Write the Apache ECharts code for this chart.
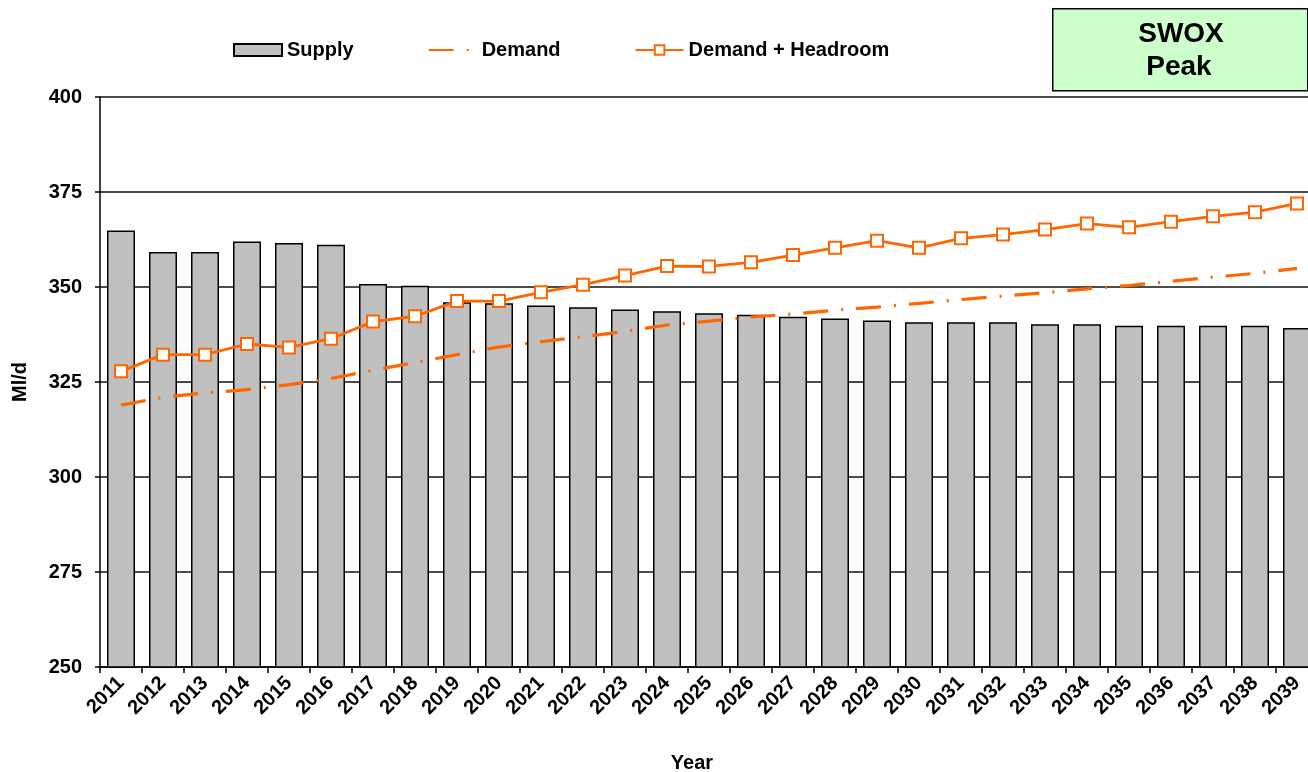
<!DOCTYPE html>
<html>
<head>
<meta charset="utf-8">
<script src="https://cdn.jsdelivr.net/npm/echarts@6/dist/echarts.min.js"></script>
<style>
html,body{margin:0;padding:0;background:#fff;}
#chart{width:1308px;height:772px;}
</style>
</head>
<body>
<div id="chart"></div>
<script>
const years = ['2011','2012','2013','2014','2015','2016','2017','2018','2019','2020','2021','2022','2023','2024','2025','2026','2027','2028','2029','2030','2031','2032','2033','2034','2035','2036','2037','2038','2039'];
const supply = [364.9, 359.2, 359.2, 362.0, 361.6, 361.1, 350.8, 350.3, 346.0, 345.7, 345.1, 344.7, 344.1, 343.6, 343.1, 342.7, 342.2, 341.7, 341.2, 340.7, 340.7, 340.7, 340.2, 340.2, 339.8, 339.8, 339.8, 339.8, 339.2];
const demand = [318.9, 321.0, 322.1, 323.0, 324.3, 325.9, 328.1, 330.1, 332.2, 334.2, 335.6, 336.9, 338.3, 340.0, 341.0, 342.1, 342.9, 343.9, 344.7, 345.7, 346.7, 347.6, 348.5, 349.5, 350.4, 351.5, 352.6, 353.6, 354.9];
const headroom = [327.8, 332.2, 332.2, 335.0, 334.1, 336.4, 340.9, 342.3, 346.3, 346.3, 348.6, 350.6, 353.0, 355.5, 355.4, 356.5, 358.4, 360.3, 362.2, 360.3, 362.8, 363.8, 365.1, 366.7, 365.7, 367.2, 368.6, 369.7, 372.0];
const seriesNames = ['Supply', 'Demand', 'Demand + Headroom'];
const boxTitle = ['SWOX', 'Peak'];
const yName = 'Ml/d';
const xName = 'Year';

const FONT = "'Liberation Sans', Arial, sans-serif";
const ORANGE = '#FF6600';

const chart = echarts.init(document.getElementById('chart'), null, {renderer: 'canvas'});
chart.setOption({
  animation: false,
  backgroundColor: '#fff',
  textStyle: {fontFamily: FONT},
  legend: {
    left: 233, top: 40, padding: 0,
    itemWidth: 48, itemHeight: 12, itemGap: 74,
    textStyle: {fontFamily: FONT, fontSize: 20, fontWeight: 'bold', color: '#000'},
    data: [
      {name: seriesNames[0], icon: 'rect'},
      {name: seriesNames[1], itemStyle: {color: 'rgba(0,0,0,0)', borderColor: 'rgba(0,0,0,0)', borderWidth: 0}},
      {name: seriesNames[2]}
    ]
  },
  graphic: [
    {type: 'rect', left: 1052, top: 8, shape: {width: 255, height: 82},
     style: {fill: '#CCFFCC', stroke: '#000', lineWidth: 1.5}},
    {type: 'text', x: 1181, y: 34, style: {text: boxTitle[0], font: "bold 28px 'Liberation Sans', Arial, sans-serif", fill: '#000', align: 'center', verticalAlign: 'middle'}},
    {type: 'text', x: 1179, y: 67, style: {text: boxTitle[1], font: "bold 28px 'Liberation Sans', Arial, sans-serif", fill: '#000', align: 'center', verticalAlign: 'middle'}}
  ],
  grid: {left: 100, top: 97, width: 1218, height: 570, containLabel: false, outerBoundsMode: 'none'},
  xAxis: {
    type: 'category', data: years, boundaryGap: true,
    name: xName, nameLocation: 'middle', nameGap: 86,
    nameTextStyle: {fontFamily: FONT, fontSize: 20, fontWeight: 'bold', color: '#000', padding: [0, 34, 0, 0]},
    axisLine: {lineStyle: {color: '#000', width: 1.5}},
    axisTick: {show: true, length: 6, alignWithLabel: false, lineStyle: {color: '#000', width: 1.5}},
    axisLabel: {rotate: 45, margin: 13, interval: 0, fontFamily: FONT, fontSize: 20, fontWeight: 'bold', color: '#000'},
    splitLine: {show: false}
  },
  yAxis: {
    type: 'value', min: 250, max: 400, interval: 25,
    name: yName, nameLocation: 'middle', nameGap: 70, nameRotate: 90,
    nameTextStyle: {fontFamily: FONT, fontSize: 20, fontWeight: 'bold', color: '#000'},
    axisLine: {show: true, lineStyle: {color: '#000', width: 1.5}},
    axisTick: {show: true, length: 5, lineStyle: {color: '#000', width: 1.5}},
    axisLabel: {margin: 18, fontFamily: FONT, fontSize: 20, fontWeight: 'bold', color: '#000'},
    splitLine: {show: true, lineStyle: {color: '#111', width: 1.5}}
  },
  series: [
    {
      name: seriesNames[0], type: 'bar', data: supply, barWidth: 28,
      itemStyle: {color: '#C0C0C0', borderColor: '#000', borderWidth: 1.5},
      z: 2
    },
    {
      name: seriesNames[1], type: 'line', data: demand, symbol: 'none', showSymbol: false,
      lineStyle: {color: ORANGE, width: 3.2, type: [25, 13, 2, 13]},
      itemStyle: {color: ORANGE},
      z: 3
    },
    {
      name: seriesNames[2], type: 'line', data: headroom, symbol: 'rect', symbolSize: 12,
      lineStyle: {color: ORANGE, width: 2.8},
      itemStyle: {color: '#fff', borderColor: ORANGE, borderWidth: 2},
      z: 4
    }
  ]
});
</script>
</body>
</html>
